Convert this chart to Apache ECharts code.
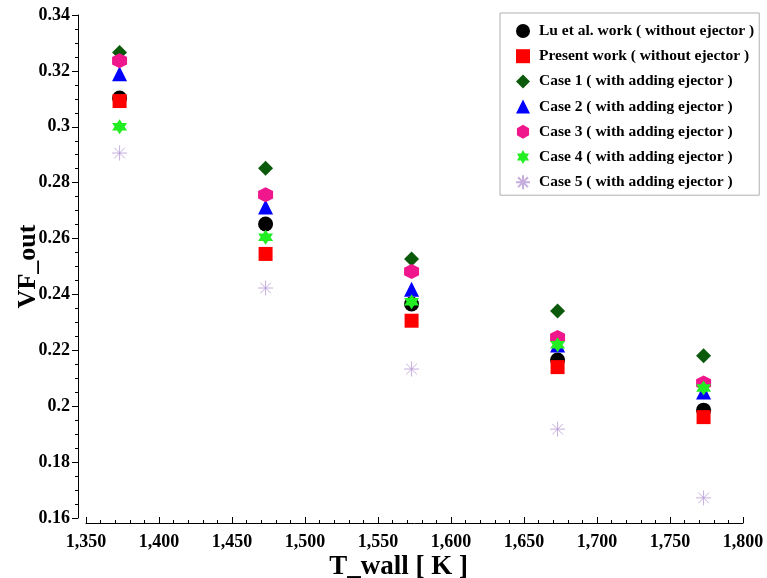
<!DOCTYPE html>
<html><head><meta charset="utf-8">
<script src="https://cdn.jsdelivr.net/npm/echarts@6/dist/echarts.min.js"></script>
<style>html,body{margin:0;padding:0;background:#fff}#c{width:767px;height:578px}</style>
</head><body><div id="c"></div>
<script>
const tWall = [1373, 1473, 1573, 1673, 1773];
const seriesNames = [
  'Lu et al. work ( without ejector )',
  'Present work ( without ejector )',
  'Case 1 ( with adding ejector )',
  'Case 2 ( with adding ejector )',
  'Case 3 ( with adding ejector )',
  'Case 4 ( with adding ejector )',
  'Case 5 ( with adding ejector )'
];
const luWork = [0.3103, 0.2652, 0.2366, 0.2165, 0.1986];
const presentWork = [0.3092, 0.2545, 0.2306, 0.2140, 0.1961];
const case1 = [0.3266, 0.2852, 0.2527, 0.2341, 0.2181];
const case2 = [0.3190, 0.2713, 0.2419, 0.2219, 0.2051];
const case3 = [0.3236, 0.2757, 0.2482, 0.2246, 0.2083];
const case4 = [0.3000, 0.2605, 0.2374, 0.2220, 0.2065];
const case5 = [0.2906, 0.2423, 0.2133, 0.1918, 0.1672];

const hexPath = 'path://M0,-1 L0.866,-0.5 L0.866,0.5 L0,1 L-0.866,0.5 L-0.866,-0.5 Z';
const starPath = 'path://M0,-1 L0.2887,-0.5 L0.866,-0.5 L0.577,0 L0.866,0.5 L0.2887,0.5 L0,1 L-0.2887,0.5 L-0.866,0.5 L-0.577,0 L-0.866,-0.5 L-0.2887,-0.5 Z';
const astPath = 'path://M0,-1 L0,1 M-1,0 L1,0 M-0.707,-0.707 L0.707,0.707 M-0.707,0.707 L0.707,-0.707';

const allData = [luWork, presentWork, case1, case2, case3, case4, case5];
const styles = [
  {symbol: 'circle', size: 15, color: '#000000'},
  {symbol: 'rect', size: 14, color: '#ff0000'},
  {symbol: 'diamond', size: 15, color: '#0b5a0b'},
  {symbol: 'triangle', size: 15, color: '#0000ff'},
  {symbol: hexPath, size: 15, color: '#f0168c'},
  {symbol: starPath, size: 15, color: '#22ee22'},
  {symbol: astPath, size: 15, color: '#b89ad6', stroke: true}
];

const font = '"Liberation Serif", "Times New Roman", serif';
const chart = echarts.init(document.getElementById('c'));
chart.setOption({
  animation: false,
  grid: {left: 86, right: 24, top: 15, bottom: 60, containLabel: false, outerBoundsMode: 'none'},
  legend: {
    orient: 'vertical',
    left: 500, top: 13,
    padding: [10, 5, 5, 15],
    itemGap: 9.2,
    itemWidth: 14, itemHeight: 14,
    borderColor: '#b0b0b0', borderWidth: 1,
    backgroundColor: '#fff',
    textStyle: {fontFamily: font, fontWeight: 'bold', fontSize: 15.5, color: '#000', padding: [0, 0, 0, 4]},
    data: seriesNames
  },
  xAxis: {
    type: 'value', min: 1350, max: 1800, interval: 50,
    offset: 5,
    name: 'T_wall [ K ]', nameLocation: 'middle', nameGap: 31, nameMoveOverlap: false,
    nameTextStyle: {fontFamily: font, fontWeight: 'bold', fontSize: 27, color: '#000', padding: [0, 32, 0, 0]},
    axisLine: {show: true, lineStyle: {color: '#000', width: 1}},
    axisTick: {show: true, inside: true, length: 6, lineStyle: {color: '#000'}},
    minorTick: {show: true, splitNumber: 5, length: 3, lineStyle: {color: '#000'}},
    splitLine: {show: false},
    axisLabel: {
      fontFamily: font, fontWeight: 'bold', fontSize: 18, color: '#000', margin: 10,
      formatter: v => v.toLocaleString('en-US')
    }
  },
  yAxis: {
    type: 'value', min: 0.16, max: 0.34, interval: 0.02,
    offset: 8,
    name: 'VF_out', nameLocation: 'middle', nameGap: 37, nameRotate: 90, nameMoveOverlap: false,
    nameTextStyle: {fontFamily: font, fontWeight: 'bold', fontSize: 26, color: '#000'},
    axisLine: {show: true, lineStyle: {color: '#000', width: 1}},
    axisTick: {show: true, inside: false, length: 6, lineStyle: {color: '#000'}},
    minorTick: {show: true, splitNumber: 4, length: 3, lineStyle: {color: '#000'}},
    splitLine: {show: false},
    axisLabel: {fontFamily: font, fontWeight: 'bold', fontSize: 18, color: '#000', margin: 8}
  },
  series: seriesNames.map((name, i) => ({
    name: name,
    type: 'scatter',
    symbol: styles[i].symbol,
    symbolSize: styles[i].size,
    z: 2 + i,
    itemStyle: styles[i].stroke
      ? {color: styles[i].color, borderColor: styles[i].color, borderWidth: 1}
      : {color: styles[i].color, opacity: 1},
    data: tWall.map((t, j) => [t, allData[i][j]])
  }))
});
</script>
</body></html>
